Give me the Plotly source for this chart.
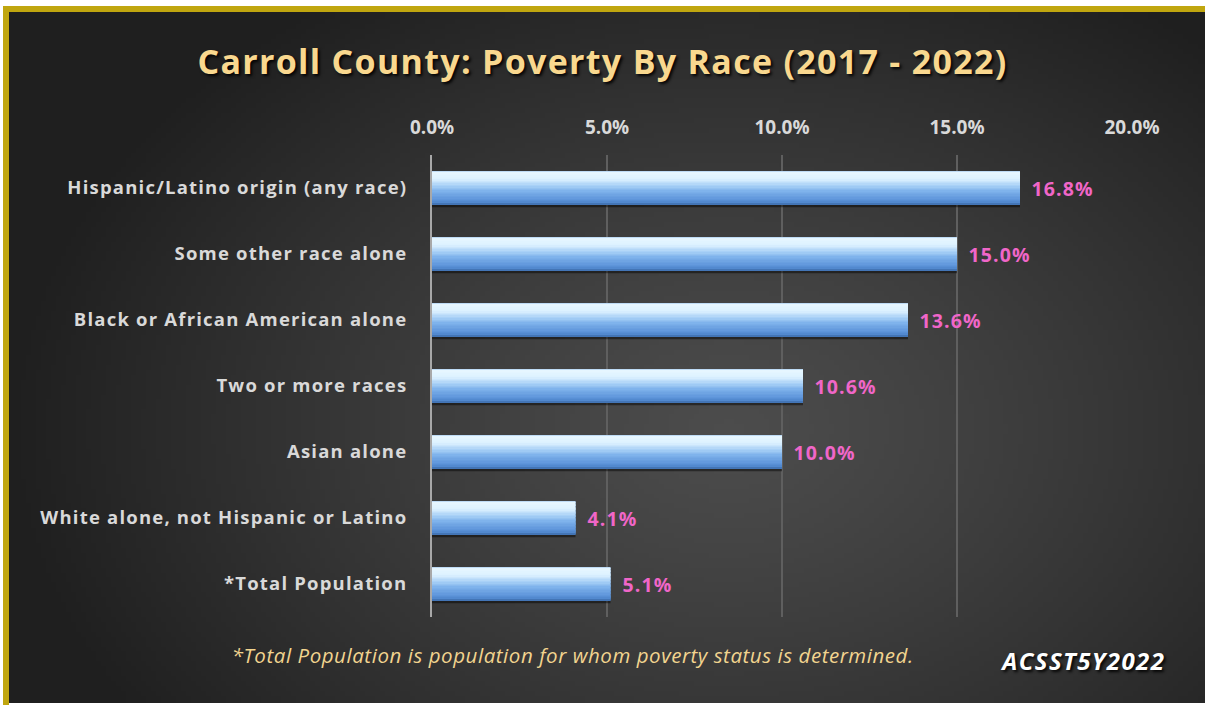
import base64
import struct
import zlib

import plotly.graph_objects as go

# ---------------- data ----------------
categories = [
    "Hispanic/Latino origin (any race)",
    "Some other race alone",
    "Black or African American alone",
    "Two or more races",
    "Asian alone",
    "White alone, not Hispanic or Latino",
    "*Total Population",
]
poverty_rate = [16.8, 15.0, 13.6, 10.6, 10.0, 4.1, 5.1]
x_ticks = [0, 5, 10, 15, 20]
x_tick_labels = ["0.0%", "5.0%", "10.0%", "15.0%", "20.0%"]

title_text = "Carroll County: Poverty By Race (2017 - 2022)"
footnote_text = "*Total Population is population for whom poverty status is determined."
source_text = "ACSST5Y2022"

W, H = 1205, 705
FONT = "Open Sans"


# ---------------- background gradient image ----------------
def gradient_png(w, h):
    rows = []
    cx, cy = 0.60 * w, 0.60 * h
    rx, ry = 0.60 * w, 0.75 * h
    c_in, c_out = 0x4c, 0x1f
    for j in range(h):
        row = bytearray([0])
        for i in range(w):
            d = (((i - cx) / rx) ** 2 + ((j - cy) / ry) ** 2) ** 0.5
            d = min(d, 1.0)
            v = int(round(c_in - (c_in - c_out) * d ** 1.2))
            row += bytes([v, v, v])
        rows.append(bytes(row))
    raw = b"".join(rows)

    def chunk(tag, data):
        c = struct.pack(">I", len(data)) + tag + data
        return c + struct.pack(">I", zlib.crc32(tag + data) & 0xFFFFFFFF)

    png = b"\x89PNG\r\n\x1a\n"
    png += chunk(b"IHDR", struct.pack(">IIBBBBB", w, h, 8, 2, 0, 0, 0))
    png += chunk(b"IDAT", zlib.compress(raw, 9))
    png += chunk(b"IEND", b"")
    return "data:image/png;base64," + base64.b64encode(png).decode()


bg_src = gradient_png(240, 140)


def mix(c1, c2, t):
    a = [int(c1[k:k + 2], 16) for k in (1, 3, 5)]
    b = [int(c2[k:k + 2], 16) for k in (1, 3, 5)]
    return "#" + "".join("%02x" % int(round(a[k] + (b[k] - a[k]) * t)) for k in range(3))


# ---------------- figure ----------------
fig = go.Figure()

bar_w = 0.50
# drop shadow
fig.add_trace(go.Bar(
    x=poverty_rate, y=categories, orientation="h",
    width=0.07, offset=bar_w / 2 - 0.03,
    marker=dict(color="rgba(0,0,0,0.45)", line=dict(width=0)),
    hoverinfo="skip", showlegend=False,
))
# base bar carrying the value labels
fig.add_trace(go.Bar(
    x=poverty_rate, y=categories, orientation="h",
    width=bar_w,
    marker=dict(color="#6ca3e4", line=dict(width=0)),
    text=poverty_rate,
    texttemplate="\u00a0\u00a0%{x:.1f}%",
    textposition="outside",
    textfont=dict(family=FONT, size=19.5, color="#f066c8", weight="bold"),
    constraintext="none",
    cliponaxis=False,
    showlegend=False,
))
# cylinder shading stripes (top -> bottom), interpolated between key colours
keys = [(0.0, "#a9cdf0"), (0.06, "#e6f6ff"), (0.25, "#dcf1ff"), (0.45, "#a6cff6"),
        (0.6, "#80b3ec"), (0.85, "#5f96db"), (0.94, "#5289cf"), (1.0, "#3b6aa8")]
n = 24
stripe_colors = []
for i in range(n):
    t = (i + 0.5) / n
    for (t0, c0), (t1, c1) in zip(keys[:-1], keys[1:]):
        if t0 <= t <= t1:
            stripe_colors.append(mix(c0, c1, (t - t0) / (t1 - t0)))
            break
s = bar_w / n
for i, col in enumerate(stripe_colors):
    fig.add_trace(go.Bar(
        x=poverty_rate, y=categories, orientation="h",
        width=s * 1.3, offset=-bar_w / 2 + i * s,
        marker=dict(color=col, line=dict(width=0)),
        hoverinfo="skip", showlegend=False,
    ))

fig.update_layout(
    width=W, height=H,
    margin=dict(l=0, r=0, t=0, b=0, autoexpand=False),
    paper_bgcolor="white",
    plot_bgcolor="rgba(0,0,0,0)",
    barmode="overlay",
    showlegend=False,
    title=dict(
        text=title_text, x=0.5, xanchor="center",
        y=1 - 62 / H, yanchor="middle",
        font=dict(family=FONT, size=34, color="#f9d88f", weight="bold",
                  shadow="2px 2px 3px rgba(0,0,0,0.9)"),
    ),
    xaxis=dict(
        domain=[432 / W, 1132 / W],
        range=[0, 20],
        side="top",
        automargin=False,
        tickmode="array", tickvals=x_ticks, ticktext=x_tick_labels,
        tickfont=dict(family=FONT, size=19, color="#d9d9d9", weight="bold"),
        ticks="outside", ticklen=12, tickcolor="rgba(0,0,0,0)",
        showgrid=True, gridcolor="#5f5f5f", gridwidth=1.5,
        zeroline=False, showline=False,
    ),
    yaxis=dict(
        domain=[1 - 617 / H, 1 - 155 / H],
        automargin=False,
        categoryorder="array", categoryarray=categories,
        autorange="reversed",
        tickfont=dict(family=FONT, size=18.5, color="#d9d9d9", weight="bold"),
        ticks="outside", ticklen=19, tickcolor="rgba(0,0,0,0)",
        showline=True, linecolor="#a8a8a8", linewidth=2,
        showgrid=False, zeroline=False,
    ),
    images=[dict(
        source=bg_src, xref="paper", yref="paper",
        x=9 / W, y=1 - 12 / H, sizex=(W - 9) / W, sizey=(703 - 12) / H,
        xanchor="left", yanchor="top", sizing="stretch", layer="below",
    )],
    shapes=[dict(
        type="rect", xref="paper", yref="paper",
        x0=6 / W, x1=(W + 10) / W, y0=-(10) / H, y1=1 - 9 / H,
        line=dict(color="#c0a60f", width=6), fillcolor="rgba(0,0,0,0)",
        layer="below",
    )],
    annotations=[
        dict(text=footnote_text, xref="paper", yref="paper",
             x=572 / W, y=1 - 655 / H, xanchor="center", yanchor="middle",
             showarrow=False,
             font=dict(family=FONT, size=20.5, color="#f2d48f", style="italic")),
        dict(text=source_text, xref="paper", yref="paper",
             x=1083 / W, y=1 - 660 / H, xanchor="center", yanchor="middle",
             showarrow=False,
             font=dict(family=FONT, size=24, color="#ffffff", weight="bold",
                       style="italic", shadow="2px 2px 3px rgba(0,0,0,0.9)")),
    ],
)

post = """
document.body.style.margin='0';
document.body.style.overflow='hidden';
var sp = function(sel, v){document.querySelectorAll(sel).forEach(function(e){e.style.letterSpacing=v;});};
sp('.gtitle', '1.3px');
sp('.ytick text', '1.2px');
sp('.bartext', '1.1px');
var ann = document.querySelectorAll('.annotation-text');
if (ann.length > 1) { ann[0].style.letterSpacing='0.55px'; ann[1].style.letterSpacing='1.4px'; }
"""

fig.write_html("out.html", config={"displayModeBar": False}, post_script=post)
